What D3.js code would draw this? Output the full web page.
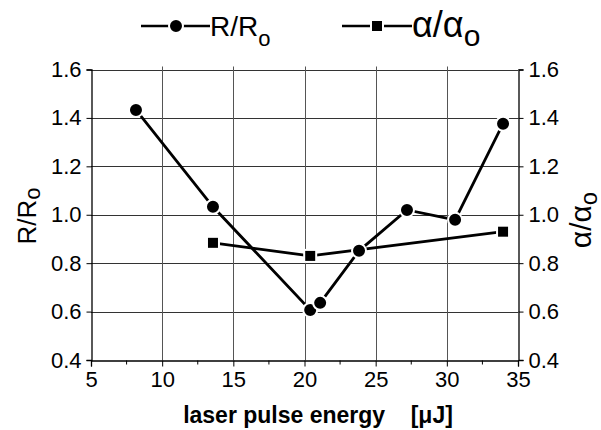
<!DOCTYPE html>
<html>
<head>
<meta charset="utf-8">
<script src="https://cdn.jsdelivr.net/npm/d3@7"></script>
<style>
body { margin: 0; background: #fff; }
text { font-family: "Liberation Sans", Arial, sans-serif; fill: #000; }
</style>
</head>
<body>
<svg id="chart" width="601" height="430"></svg>
<script>
// data
var energyR = [8.16, 13.57, 20.4, 21.1, 23.83, 27.2, 30.58, 33.95];
var ratioR = [1.433, 1.033, 0.607, 0.636, 0.851, 1.02, 0.979, 1.376];
var energyA = [13.57, 20.4, 33.95];
var ratioA = [0.884, 0.83, 0.93];
var xTicks = [5, 10, 15, 20, 25, 30, 35];
var xMinor = [7.5, 12.5, 17.5, 22.5, 27.5, 32.5];
var yTicks = [0.4, 0.6, 0.8, 1.0, 1.2, 1.4, 1.6];

var svg = d3.select("#chart");

var x = d3.scaleLinear().domain([5, 35]).range([91, 518]);
var y = d3.scaleLinear().domain([0.4, 1.6]).range([360, 69.5]);

// grid
svg.append("g").selectAll("line")
	.data(yTicks.slice(1))
	.enter().append("line")
	.attr("x1", x(5)).attr("x2", x(35))
	.attr("y1", function(d){ return Math.round(y(d)) + 0.5; })
	.attr("y2", function(d){ return Math.round(y(d)) + 0.5; })
	.attr("stroke", "#333").attr("stroke-width", 1);

svg.append("g").selectAll("line")
	.data(xTicks.slice(1, -1))
	.enter().append("line")
	.attr("x1", function(d){ return Math.round(x(d)) + 0.5; })
	.attr("x2", function(d){ return Math.round(x(d)) + 0.5; })
	.attr("y1", y(1.6) - 3).attr("y2", y(0.4))
	.attr("stroke", "#555").attr("stroke-width", 1);

// axes
var bottom = svg.append("g")
	.attr("transform", "translate(0," + (Math.round(y(0.4)) + 0.5) + ")")
	.call(d3.axisBottom(x).tickValues(xTicks).tickSize(6).tickPadding(5).tickFormat(d3.format("d")));
bottom.append("g").selectAll("line")
	.data(xMinor)
	.enter().append("line")
	.attr("x1", function(d){ return x(d); }).attr("x2", function(d){ return x(d); })
	.attr("y1", 0).attr("y2", 4).attr("stroke", "#000");

var left = svg.append("g")
	.attr("transform", "translate(" + (Math.round(x(5)) + 0.5) + ",0)")
	.call(d3.axisLeft(y).tickValues(yTicks).tickSize(5).tickPadding(5).tickFormat(d3.format(".1f")));

var right = svg.append("g")
	.attr("transform", "translate(" + (Math.round(x(35)) + 0.5) + ",0)")
	.call(d3.axisRight(y).tickValues(yTicks).tickSize(5).tickPadding(5).tickFormat(d3.format(".1f")));

svg.selectAll(".domain").attr("stroke", "#000").attr("stroke-width", 1.3);
svg.selectAll(".tick line").attr("stroke", "#000");
svg.selectAll(".tick text")
	.style("font-family", "'Liberation Sans', Arial, sans-serif")
	.style("font-size", "22px").attr("fill", "#000");

// series lines
var lineR = d3.line()
	.x(function(d){ return x(d[0]); })
	.y(function(d){ return y(d[1]); });

var ptsR = energyR.map(function(e, i){ return [e, ratioR[i]]; });
var ptsA = energyA.map(function(e, i){ return [e, ratioA[i]]; });

svg.append("path").datum(ptsA).attr("d", lineR)
	.attr("fill", "none").attr("stroke", "#000").attr("stroke-width", 2.8);
svg.append("path").datum(ptsR).attr("d", lineR)
	.attr("fill", "none").attr("stroke", "#000").attr("stroke-width", 2.8);

svg.append("g").selectAll("rect")
	.data(ptsA)
	.enter().append("rect")
	.attr("x", function(d){ return x(d[0]) - 6; })
	.attr("y", function(d){ return y(d[1]) - 6; })
	.attr("width", 12).attr("height", 12)
	.attr("fill", "#000").attr("stroke", "#fff").attr("stroke-width", 2);

svg.append("g").selectAll("circle")
	.data(ptsR)
	.enter().append("circle")
	.attr("cx", function(d){ return x(d[0]); })
	.attr("cy", function(d){ return y(d[1]); })
	.attr("r", 7)
	.attr("fill", "#000").attr("stroke", "#fff").attr("stroke-width", 2);

// legend
var leg = svg.append("g");
leg.append("line").attr("x1", 141).attr("x2", 210).attr("y1", 26).attr("y2", 26)
	.attr("stroke", "#000").attr("stroke-width", 2.5);
leg.append("circle").attr("cx", 176).attr("cy", 26).attr("r", 7)
	.attr("fill", "#000").attr("stroke", "#fff").attr("stroke-width", 2);
var t1 = leg.append("text").attr("x", 210).attr("y", 36).style("font-size", "28px");
t1.append("tspan").text("R/R");
t1.append("tspan").attr("dy", 10).style("font-size", "22px").text("o");

leg.append("line").attr("x1", 342).attr("x2", 412).attr("y1", 26).attr("y2", 26)
	.attr("stroke", "#000").attr("stroke-width", 2.5);
leg.append("rect").attr("x", 371).attr("y", 20).attr("width", 12).attr("height", 12)
	.attr("fill", "#000").attr("stroke", "#fff").attr("stroke-width", 2);
var t2 = leg.append("text").attr("x", 412).attr("y", 37).style("font-size", "36px");
t2.append("tspan").text("α/α");
t2.append("tspan").attr("dy", 9).style("font-size", "30px").text("o");

// axis titles
var ly = svg.append("text")
	.attr("transform", "translate(36,216) rotate(-90)")
	.attr("text-anchor", "middle").style("font-size", "26px");
ly.append("tspan").text("R/R");
ly.append("tspan").attr("dy", 4).style("font-size", "22px").text("o");

var ry = svg.append("text")
	.attr("transform", "translate(591,220) rotate(-90)")
	.attr("text-anchor", "middle").style("font-size", "30px");
ry.append("tspan").text("α/α");
ry.append("tspan").attr("dy", 6).style("font-size", "24px").text("o");

svg.append("text")
	.attr("x", 318).attr("y", 423)
	.attr("text-anchor", "middle")
	.style("font-size", "23px").style("font-weight", "bold")
	.attr("xml:space", "preserve")
	.text("laser pulse energy    [μJ]");
</script>
</body>
</html>
